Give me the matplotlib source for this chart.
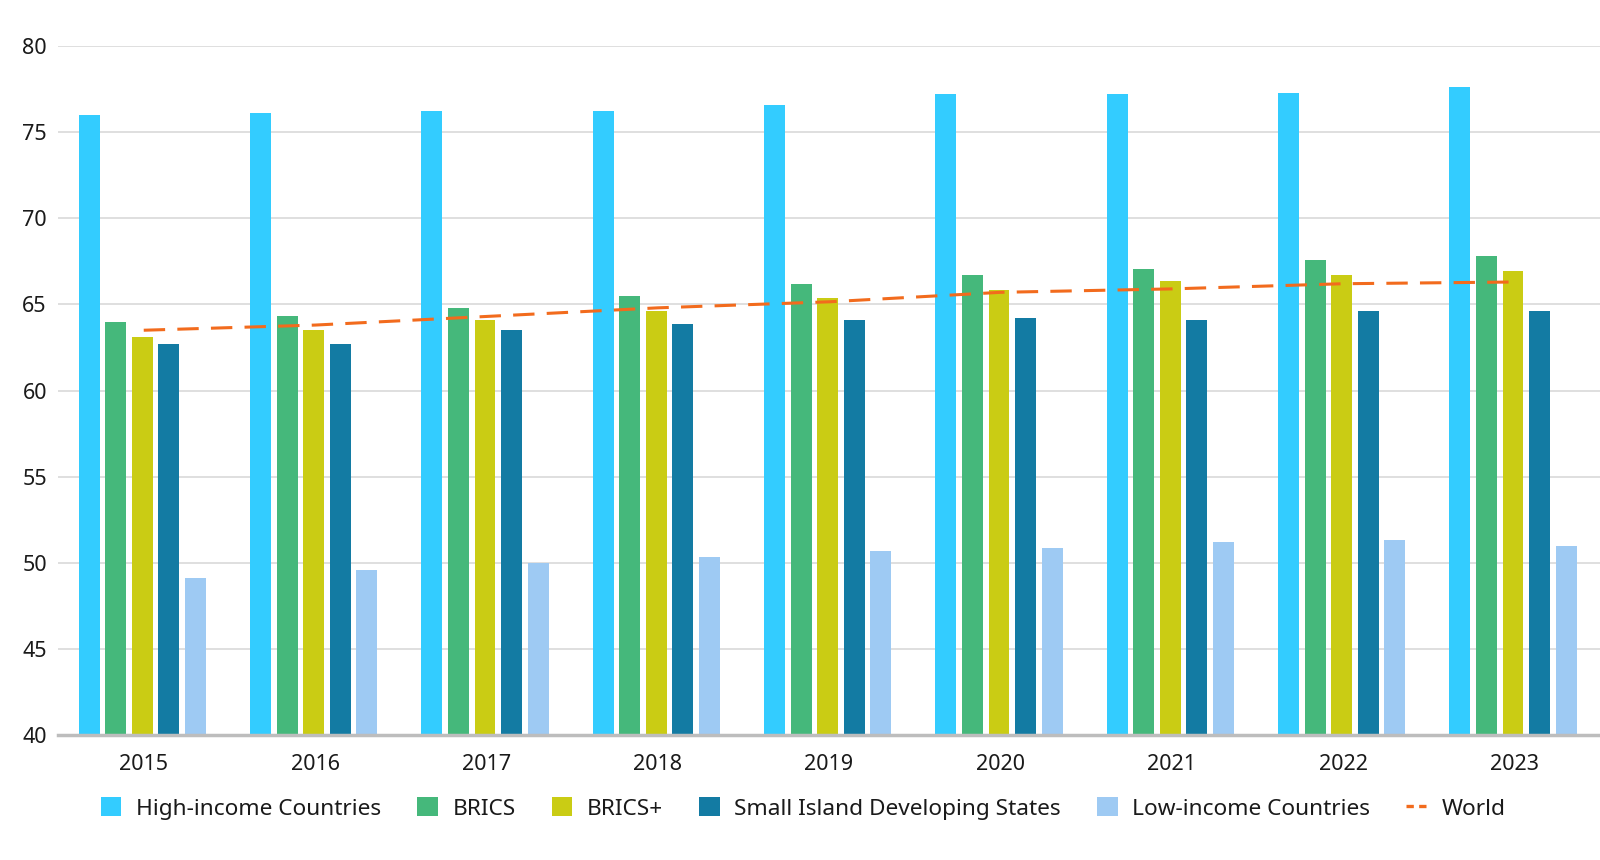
import numpy as np
import matplotlib
matplotlib.use("Agg")
import matplotlib.pyplot as plt
from matplotlib.lines import Line2D

plt.rcParams['font.family'] = ['Noto Sans', 'DejaVu Sans']

years = ["2015", "2016", "2017", "2018", "2019", "2020", "2021", "2022", "2023"]

high_income = [76.0, 76.1, 76.2, 76.2, 76.6, 77.2, 77.2, 77.3, 77.6]
brics = [64.0, 64.35, 64.8, 65.5, 66.2, 66.7, 67.05, 67.55, 67.8]
brics_plus = [63.1, 63.5, 64.1, 64.6, 65.35, 65.85, 66.35, 66.7, 66.95]
sids = [62.7, 62.7, 63.5, 63.85, 64.1, 64.2, 64.1, 64.6, 64.6]
low_income = [49.1, 49.6, 50.0, 50.35, 50.7, 50.85, 51.2, 51.35, 51.0]
world = [63.5, 63.8, 64.3, 64.8, 65.15, 65.7, 65.9, 66.2, 66.3]

series = [
    ("High-income Countries", high_income, "#33CCFF"),
    ("BRICS", brics, "#45B87B"),
    ("BRICS+", brics_plus, "#CACC14"),
    ("Small Island Developing States", sids, "#137BA3"),
    ("Low-income Countries", low_income, "#9ECAF3"),
]

fig = plt.figure(figsize=(16, 8.6), dpi=100)
ax = fig.add_axes([0.0363, 0.1453, 0.9637, 0.8012])

x = np.arange(len(years))
pitch = 0.155
width = 0.122
handles = []
for i, (name, vals, col) in enumerate(series):
    b = ax.bar(x + (i - 2) * pitch - 0.008, vals, width=width, color=col, label=name, zorder=2)
    handles.append(b)

ax.plot(x, world, color="#F26B1D", lw=2.2, dashes=(7, 4), zorder=3)
handles.append(Line2D([], [], color="#F26B1D", lw=2.4, dashes=(2.2, 1.6)))
labels = [s[0] for s in series] + ["World"]

ax.set_xlim(-0.5, len(years) - 0.5)
ax.set_ylim(40, 80)
ax.set_yticks(range(40, 81, 5))
ax.set_xticks(x)
ax.set_xticklabels(years)
ax.tick_params(axis='both', length=0, labelsize=15.5, colors="#1a1a1a")
ax.tick_params(axis='x', pad=14)
ax.tick_params(axis='y', pad=8)
ax.grid(axis='y', color="#DCDCDC", lw=1.3, zorder=0)
ax.set_axisbelow(True)
for s in ["top", "right", "left"]:
    ax.spines[s].set_visible(False)
ax.spines["bottom"].set_color("#BDBDBD")
ax.spines["bottom"].set_linewidth(2.5)
ax.spines["bottom"].set_zorder(4)

fig.legend(handles, labels, loc="center", bbox_to_anchor=(0.502, 0.06), ncol=6, frameon=False,
           fontsize=16.3, handlelength=0.9, handleheight=0.9, handletextpad=0.65,
           columnspacing=1.6, labelcolor="#1a1a1a")

fig.savefig("out.png", dpi=100)
